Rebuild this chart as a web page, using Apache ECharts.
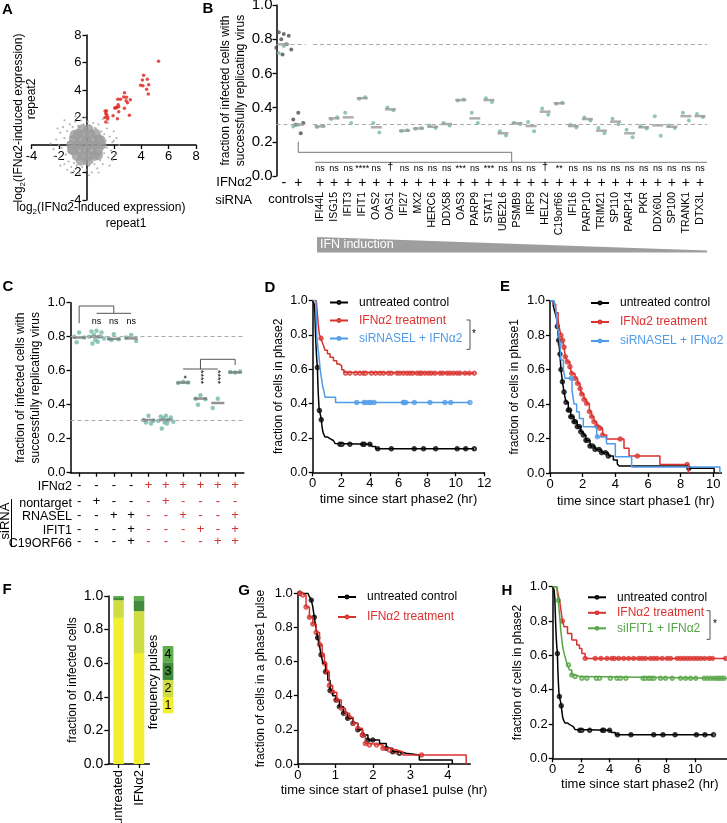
<!DOCTYPE html>
<html>
<head>
<meta charset="utf-8">
<script src="https://cdn.jsdelivr.net/npm/echarts@6/dist/echarts.min.js"></script>
<style>
html,body{margin:0;padding:0;background:#fff}
#fig{width:727px;height:823px}
</style>
</head>
<body>
<div id="fig"></div>
<script>
var FONT = 'Liberation Sans, Arial, Helvetica, sans-serif';
var RED = '#d9322f', BLUE = '#4f9be8', GREEN = '#56a545', TEAL = '#74b9a8', GRAYPT = '#4d4d4d';

/* ---------- A : scatter repeat1 vs repeat2 ---------- */
var aRed = [[5.27,6.1],[4.18,5.07],[4.09,4.73],[4.45,4.78],[4.55,4.39],[3.96,4.34],[4.13,4.31],[4.4,4.05],
  [4.52,3.71],[2.78,3.8],[2.73,3.49],[2.93,3.47],[2.29,3.32],[2.49,3.32],[2.9,3.22],[3.21,3.3],[3.0,3.08],
  [2.32,2.93],[2.36,2.79],[2.07,2.69],[2.15,2.69],[2.22,2.74],[2.78,2.67],[2.36,2.42],[1.37,2.47],[1.47,2.47],
  [1.42,2.3],[1.49,2.18],[1.95,2.13],[3.14,2.16],[1.36,2.0],[1.56,2.03],[2.27,1.91],[1.56,1.89],[1.42,1.67]];
var aCloudCore = [[-1.1,0],[-0.65,0],[-0.2,0],[0.25,0],[0.7,0],[1.1,0],
  [-0.9,0.4],[-0.45,0.4],[0,0.4],[0.45,0.4],[0.9,0.4],
  [-0.95,-0.4],[-0.5,-0.4],[-0.05,-0.4],[0.4,-0.4],[0.85,-0.4],
  [-0.6,0.8],[-0.15,0.8],[0.3,0.8],[0.7,0.8],
  [-0.7,-0.8],[-0.25,-0.8],[0.2,-0.8],[0.6,-0.8],
  [-0.3,1.15],[0.15,1.15],[-0.4,-1.15],[0.1,-1.15],
  [-0.85,0.75],[0.85,-0.75],[-1.05,-0.35],[1.05,0.35]];
var aCloud = [[-2.4,-0.3],[-2.2,0.4],[-2.0,-1.0],[-1.9,0.9],[-1.8,-0.2],[-1.7,1.3],[-1.6,-1.4],[-1.6,0.5],
  [-1.5,-0.7],[-1.4,1.0],[-1.4,-1.8],[-1.3,0.2],[-1.3,-1.2],[-1.2,1.5],[-1.1,-1.6],[-1.0,1.3],[-0.9,-1.9],
  [-0.8,1.7],[-0.7,-1.5],[-0.6,1.4],[-0.5,-2.1],[-0.4,1.8],[-0.3,-1.6],[-0.2,1.5],[0.0,-1.8],[0.1,1.7],
  [0.2,-1.5],[0.3,1.4],[0.4,-2.0],[0.5,1.6],[0.6,-1.4],[0.7,1.2],[0.8,-1.7],[0.9,1.5],[1.0,-1.1],[1.1,1.0],
  [1.2,-1.4],[1.3,0.8],[1.3,-0.6],[1.4,0.3],[1.5,-0.2],[1.5,1.2],[1.6,-0.9],[1.7,0.6],[1.8,-0.4],[1.9,0.2],
  [2.0,1.0],[2.1,-0.7],[2.2,0.5],[2.4,0.0],[-2.6,0.1],[-2.3,-0.8],[-2.1,1.2],[-1.9,-1.5],[1.6,1.6],[1.9,-1.1],
  [-0.1,2.0],[0.2,-2.2],[-1.1,-2.0],[1.2,1.9],[-2.0,0.0],[2.0,0.3],[1.7,-1.5],[-1.6,1.8],[0.9,-2.0],[-0.8,2.1],
  [-1.2,0.6],[1.2,-0.2],[-1.25,-0.5],[1.15,0.55],[-0.9,-1.3],[0.6,1.25],[-0.5,1.3],[0.45,-1.25]];

/* ---------- B : siRNA screen ---------- */
var bCtrl = ['-', '+'];
var bCtrlDark = [[0.83,0.84,0.82,0.80,0.77,0.75,0.74,0.71],[0.37,0.33,0.31,0.30,0.25]];
var bCtrlTeal = [[0.76,0.72],[0.30,0.29]];
var bCtrlMedian = [0.77, 0.30];
var bGenes = ['IFI44L','ISG15','IFIT3','IFIT1','OAS2','OAS1','IFI27','MX2','HERC6','DDX58','OAS3','PARP9','STAT1',
  'UBE2L6','PSMB9','IRF9','HELZ2','C19orf66','IFI16','PARP10','TRIM21','SP110','PARP14','PKR','DDX60L','SP100','TRANK1','DTX3L'];
var bMedian = [0.29,0.337,0.343,0.455,0.285,0.39,0.265,0.278,0.288,0.304,0.444,0.337,0.444,0.25,0.308,0.292,0.376,0.425,
  0.292,0.333,0.265,0.318,0.25,0.285,0.296,0.288,0.35,0.35];
var bRep1 = [0.286,0.333,0.37,0.452,0.31,0.40,0.263,0.276,0.296,0.31,0.442,0.37,0.455,0.262,0.311,0.316,0.395,0.423,
  0.30,0.342,0.28,0.335,0.27,0.292,0.35,0.295,0.37,0.362];
var bRep2 = [0.294,0.343,0.31,0.46,0.255,0.385,0.268,0.281,0.28,0.296,0.447,0.31,0.433,0.237,0.304,0.262,0.358,0.428,
  0.284,0.325,0.25,0.302,0.226,0.278,0.235,0.28,0.325,0.345];
var bSig = ['ns','ns','ns','****','ns','\u2020','ns','ns','ns','ns','***','ns','***','ns','ns','ns','\u2020','**',
  'ns','ns','ns','ns','ns','ns','ns','ns','ns','ns'];
var bRefLines = [0.77, 0.303];

/* ---------- C : knockdown combinations ---------- */
var cMedian = [0.795, 0.80, 0.787, 0.79, 0.31, 0.31, 0.53, 0.436, 0.41, 0.59];
var cPoints = [
  [0.824,0.80,0.796,0.767],
  [0.835,0.83,0.825,0.81,0.80,0.80,0.79,0.78,0.77,0.76],
  [0.815,0.79,0.785,0.78],
  [0.81,0.795,0.775],
  [0.335,0.31,0.305,0.295,0.29],
  [0.335,0.33,0.325,0.32,0.31,0.305,0.30,0.295,0.29,0.26],
  [0.535,0.528,0.53],
  [0.455,0.435,0.432,0.40],
  [0.435,0.38],
  [0.59,0.593,0.595]];
var cRowNames = ['IFN\u03b12', 'nontarget', 'RNASEL', 'IFIT1', 'C19ORF66'];
var cRows = [
  ['-','-','-','-','+','+','+','+','+','+'],
  ['-','+','-','-','-','+','-','-','-','-'],
  ['-','-','+','+','-','-','+','-','-','+'],
  ['-','-','-','+','-','-','-','+','-','+'],
  ['-','-','-','+','-','-','-','-','+','+']];
var cRefLines = [0.8, 0.313];
var cSigTop = ['', 'ns', 'ns', 'ns'];
var cSigLow = ['', '', '', '', '', '', '*', '****', '****', ''];

/* ---------- D / H : phase2 survival ---------- */
var kmUntreated2 = [[0,1],[0.1,0.98],[0.15,0.93],[0.18,0.85],[0.21,0.78],[0.24,0.72],[0.28,0.66],[0.33,0.61],
  [0.36,0.52],[0.4,0.44],[0.44,0.38],[0.47,0.36],[0.55,0.33],[0.6,0.306],[0.65,0.27],[0.7,0.24],[0.75,0.225],
  [0.86,0.206],[1.03,0.196],[1.2,0.19],[1.33,0.185],[1.45,0.175],[1.56,0.168],[1.68,0.163],[4.05,0.163],
  [4.15,0.15],[4.4,0.137],[11.3,0.137]];
var kmUntreated2Cens = [0.33,0.47,0.6,1.9,2.05,2.6,3.5,3.6,4.0,4.55,5.5,7.1,7.75,8.6,10.1,10.7,11.3];
var kmIfn2 = [[0,1],[0.25,1],[0.3,0.95],[0.35,0.9],[0.4,0.85],[0.47,0.8],[0.58,0.78],[0.65,0.76],[0.75,0.74],
  [0.86,0.71],[1.03,0.69],[1.21,0.67],[1.45,0.65],[1.68,0.63],[1.86,0.62],[2.03,0.597],[2.19,0.583],[2.28,0.577],[11.3,0.577]];
var kmIfn2Cens = [0.58,2.3,2.6,3.0,3.3,3.55,3.7,4.1,4.4,4.7,4.95,5.3,5.5,5.9,6.1,6.35,6.6,6.8,7.0,7.3,7.5,7.6,7.85,
  8.1,8.3,8.55,8.9,9.1,9.4,9.6,9.85,10.1,10.3,10.65,10.95,11.3];
var kmSiRnasel2 = [[0,1],[0.22,1],[0.25,0.9],[0.28,0.8],[0.33,0.75],[0.4,0.7],[0.44,0.67],[0.5,0.62],[0.55,0.58],
  [0.63,0.54],[0.7,0.5],[0.79,0.47],[0.86,0.437],[1.6,0.406],[11.0,0.406]];
var kmSiRnasel2Cens = [3.08,3.59,3.73,3.96,4.06,4.29,6.34,6.41,6.5,7.11,8.2,9.25,9.65,11.0];
var kmIfn2H = [[0,1],[0.28,1],[0.4,0.95],[0.52,0.9],[0.6,0.85],[0.68,0.8],[0.8,0.767],[1.04,0.728],[1.34,0.69],
  [1.69,0.66],[1.88,0.64],[2.05,0.61],[2.28,0.582],[12.2,0.582]];
var kmIfn2HCens = [0.68,2.28,2.99,3.39,3.81,4.16,4.33,4.64,4.99,5.34,5.69,6.05,6.28,6.52,6.87,7.11,7.34,7.69,8.05,
  8.28,8.75,8.99,9.22,9.46,9.69,9.93,10.16,10.4,10.68,10.99,11.22,12.16];
var kmSiIfit1 = [[0,1],[0.28,1],[0.33,0.96],[0.4,0.92],[0.47,0.845],[0.52,0.8],[0.56,0.75],[0.63,0.7],[0.7,0.65],
  [0.78,0.62],[0.87,0.59],[0.95,0.565],[1.04,0.544],[1.18,0.515],[1.34,0.485],[1.58,0.476],[1.93,0.466],[12.2,0.466]];
var kmSiIfit1Cens = [0.4,1.11,1.34,1.58,2.05,2.4,3.06,3.29,4.05,4.52,4.75,5.14,6.35,6.52,6.75,6.92,7.11,7.58,7.93,
  8.4,8.99,9.34,9.69,10.05,10.64,10.87,11.11,11.34,11.53,11.69,11.86,12.05];

/* ---------- E : phase1 survival ---------- */
var kmUntreated1 = [[0,1],[0.1,1],[0.2,0.97],[0.31,0.93],[0.4,0.9],[0.45,0.85],[0.53,0.77],[0.61,0.69],[0.67,0.6],
  [0.76,0.53],[0.86,0.47],[0.98,0.41],[1.12,0.365],[1.27,0.327],[1.47,0.298],[1.67,0.269],[1.88,0.24],[2.04,0.22],
  [2.2,0.19],[2.45,0.157],[2.76,0.137],[3.16,0.118],[3.57,0.099],[3.88,0.075],[4.12,0.052],[4.24,0.04],[8.5,0.027],
  [10.05,0],[10.05,0]];
var kmUntreated1Cens = [0.45,0.53,0.61,0.67,0.76,0.86,0.98,1.12,1.2,1.27,1.35,1.47,1.55,1.67,1.8,1.88,2.04,2.2,2.3,
  2.45,2.6,2.76,3.0,3.16,3.4,3.57,8.5];
var kmIfn1 = [[0,1],[0.1,1],[0.2,0.98],[0.35,0.93],[0.5,0.88],[0.6,0.83],[0.67,0.8],[0.78,0.77],[0.86,0.73],
  [0.94,0.675],[1.06,0.646],[1.22,0.617],[1.33,0.578],[1.53,0.55],[1.69,0.52],[1.84,0.49],[1.94,0.458],[2.08,0.427],
  [2.24,0.404],[2.41,0.356],[2.55,0.327],[2.69,0.298],[2.86,0.273],[3.06,0.26],[3.22,0.22],[3.47,0.197],[4.53,0.143],
  [4.84,0.099],[6.73,0.05],[8.47,0],[8.47,0]];
var kmIfn1Cens = [0.67,0.78,0.86,0.94,1.06,1.22,1.33,1.53,1.69,1.84,1.94,2.08,2.24,2.41,2.55,2.69,2.86,3.06,3.22,
  4.3,5.35,8.4];
var kmSiRnasel1 = [[0,1],[0.25,1],[0.35,0.95],[0.45,0.85],[0.53,0.8],[0.61,0.75],[0.67,0.656],[0.82,0.6],[0.92,0.55],
  [1.35,0.48],[1.47,0.4],[1.63,0.356],[1.8,0.317],[2.04,0.269],[2.86,0.21],[3.43,0.2],[3.47,0.17],[4.0,0.095],
  [5.0,0.035],[10.4,0],[10.4,0]];
var kmSiRnasel1Cens = [0.61,1.3,2.9];

/* ---------- F : pulse frequency ---------- */
var fCats = ['untreated', 'IFN\u03b12'];
var fPulse1 = [0.87, 0.66];
var fPulse2 = [0.105, 0.25];
var fPulse3 = [0.013, 0.065];
var fPulse4 = [0.012, 0.025];
var fColors = ['#f1ef2e', '#cfdc42', '#3f8b3c', '#60ad4d'];

/* ---------- G : phase1 pulse duration ---------- */
var kmUntreatedP = [[0,1],[0.27,1],[0.31,0.98],[0.36,0.96],[0.4,0.92],[0.44,0.86],[0.49,0.79],[0.53,0.74],[0.58,0.69],
  [0.62,0.64],[0.67,0.59],[0.74,0.54],[0.8,0.49],[0.86,0.43],[0.93,0.4],[1.02,0.375],[1.11,0.336],[1.22,0.297],
  [1.33,0.268],[1.47,0.238],[1.6,0.2],[1.73,0.17],[1.87,0.14],[2.18,0.12],[2.36,0.092],[2.53,0.072],[2.71,0.0625],
  [2.89,0.053],[3.24,0.023],[4.12,0],[4.12,0]];
var kmUntreatedPCens = [0.05,0.36,0.44,0.53,0.62,0.74,0.86,1.02,1.11,1.22,1.33,1.47,1.6,1.73,1.87,2.0,2.36,2.53,2.71];
var kmIfnP = [[0,1],[0.1,0.995],[0.13,0.99],[0.22,0.92],[0.31,0.86],[0.4,0.82],[0.49,0.77],[0.58,0.7],[0.65,0.64],
  [0.71,0.59],[0.77,0.54],[0.84,0.46],[0.93,0.42],[1.04,0.375],[1.16,0.326],[1.27,0.297],[1.38,0.273],[1.48,0.238],
  [1.6,0.209],[1.72,0.17],[1.8,0.12],[1.91,0.111],[2.27,0.092],[2.44,0.082],[2.62,0.072],[2.8,0.053],[4.49,0],[4.49,0]];
var kmIfnPCens = [0.05,0.13,0.22,0.31,0.4,0.49,0.58,0.65,0.71,0.77,0.84,0.93,1.04,1.16,1.27,1.38,1.48,1.6,1.72,1.8,
  1.91,2.1,2.27,2.44,2.62,3.3];

/* ---------- helpers ---------- */
var jitter = [0, -5, 5, -2.5, 2.5, -7.5, 7.5, -1.2, 1.2, -4, 4];

function ax(o) {
  var base = {
    axisLine: {show: true, onZero: false, lineStyle: {color: '#000', width: 1.5}},
    axisTick: {show: true, length: 4, lineStyle: {color: '#000', width: 1.3}},
    axisLabel: {color: '#000', fontSize: 13, fontFamily: FONT, margin: 5},
    splitLine: {show: false},
    nameTextStyle: {color: '#000', fontSize: 12, fontFamily: FONT, lineHeight: 15}
  };
  return echarts.util.merge(base, o, true);
}
function fracAxis(grid, o) {
  return ax(echarts.util.merge({type: 'value', gridIndex: grid, position: 'left', min: 0, max: 1, interval: 0.2,
    nameLocation: 'middle', nameRotate: 90,
    axisLabel: {formatter: function (v) { return v.toFixed(1); }}}, o || {}, true));
}
function stepAt(curve, t) {
  var v = curve[0][1];
  for (var i = 0; i < curve.length; i++) if (curve[i][0] <= t) v = curve[i][1];
  return v;
}
function kmLine(name, curve, color, xi, yi) {
  return {type: 'line', name: name, xAxisIndex: xi, yAxisIndex: yi, data: curve, step: 'end',
    symbol: 'emptyCircle', symbolSize: 4, showSymbol: false, silent: true,
    lineStyle: {color: color, width: 1.5}, itemStyle: {color: color, borderWidth: 1}};
}
function kmCens(curve, times, color, xi, yi) {
  return {type: 'scatter', name: '_c', xAxisIndex: xi, yAxisIndex: yi, silent: true,
    data: times.map(function (t) { return [t, stepAt(curve, t)]; }),
    symbol: 'emptyCircle', symbolSize: 3.5, itemStyle: {color: color, borderColor: color, borderWidth: 0.9}};
}
function groupPts(groups, xi, yi, color, size) {
  var data = [];
  groups.forEach(function (g, ci) {
    g.forEach(function (v, j) { data.push({value: [ci, v], symbolOffset: [jitter[j % jitter.length], 0]}); });
  });
  return {type: 'scatter', xAxisIndex: xi, yAxisIndex: yi, data: data, symbolSize: size, silent: true,
    itemStyle: {color: color}};
}
function refLines(vals) {
  return {silent: true, symbol: 'none', label: {show: false},
    lineStyle: {color: '#aaa', type: [4, 3], width: 1},
    data: vals.map(function (v) { return {yAxis: v}; })};
}
function legendAt(left, top, gap, items) {
  return {orient: 'vertical', left: left, top: top, itemGap: gap, itemWidth: 18, itemHeight: 3.5,
    selectedMode: false, padding: 0,
    textStyle: {fontSize: 12, fontFamily: FONT, padding: [0, 0, 0, 6]},
    data: items.map(function (it) { return {name: it[0], textStyle: {color: it[1]}}; })};
}

/* ---------- grids / axes ---------- */
var grids = [
  {left: 31.5, top: 35, width: 164.5, height: 165},      // 0 A
  {left: 276.5, top: 5, width: 29, height: 171},         // 1 B controls
  {left: 313, top: 5, width: 394, height: 171},          // 2 B genes
  {left: 70.5, top: 302.7, width: 173.3, height: 170},   // 3 C
  {left: 312.7, top: 300.5, width: 171.6, height: 171.8},// 4 D
  {left: 550, top: 300.7, width: 171.5, height: 172.3},  // 5 E
  {left: 108.3, top: 596, width: 41, height: 168},       // 6 F
  {left: 297.8, top: 593.3, width: 172.5, height: 170.7},// 7 G
  {left: 552.7, top: 586.7, width: 174.3, height: 171.6} // 8 H
].map(function (g) { g.outerBoundsMode = 'none'; g.containLabel = false; return g; });

var noLine = {axisLine: {show: false}, axisTick: {show: false}};
var cIdx = ['0','1','2','3','4','5','6','7','8','9'];
function cRowFormatter(r) {
  return function (v, i) { return (i >= 4 ? '{r|' : '{k|') + cRows[r][i] + '}'; };
}
var cRich = {k: {color: '#000', fontSize: 13, fontFamily: FONT}, r: {color: RED, fontSize: 13, fontFamily: FONT}};
var cRowOffsets = [0, 16.6, 30, 44, 56.6];

var xAxes = [
  // A: x axis drawn through y = 0 (4 units of 13.75 px above the grid bottom)
  ax({type: 'value', gridIndex: 0, position: 'bottom', offset: -55, min: -4, max: 8, interval: 2,
    axisLabel: {formatter: function (v) { return v === 0 ? '' : v; }}}),
  ax(echarts.util.merge({type: 'category', gridIndex: 1, position: 'bottom', data: ['n', 'p'],
    axisLabel: {interval: 0, margin: 0, fontSize: 14, formatter: function (v, i) { return bCtrl[i]; }}}, noLine, true)),
  ax(echarts.util.merge({type: 'category', gridIndex: 1, position: 'bottom', data: ['controls'], offset: 14,
    axisLabel: {interval: 0, margin: 3, fontSize: 13}}, noLine, true)),
  ax(echarts.util.merge({type: 'category', gridIndex: 2, position: 'bottom', data: bGenes,
    axisLabel: {interval: 0, margin: 0, fontSize: 14, formatter: function () { return '+'; }}}, noLine, true)),
  ax(echarts.util.merge({type: 'category', gridIndex: 2, position: 'bottom', data: bGenes, offset: 12,
    axisLabel: {interval: 0, margin: 4, fontSize: 10.5, rotate: 90}}, noLine, true))
];
cRows.forEach(function (row, r) {
  var o = {type: 'category', gridIndex: 3, position: 'bottom', data: cIdx, offset: cRowOffsets[r],
    axisLabel: {interval: 0, margin: 6, formatter: cRowFormatter(r), rich: cRich},
    axisTick: {alignWithLabel: true, length: 4}};
  if (r > 0) o = echarts.util.merge(o, noLine, true);
  xAxes.push(ax(o));
});
xAxes.push(
  ax({type: 'value', gridIndex: 4, position: 'bottom', min: 0, max: 12, interval: 2, name: 'time since start phase2 (hr)',
    nameLocation: 'middle', nameGap: 20, nameTextStyle: {fontSize: 13}}),
  ax({type: 'value', gridIndex: 5, position: 'bottom', min: 0, max: 10.5, interval: 2, name: 'time since start phase1 (hr)',
    nameLocation: 'middle', nameGap: 21, nameTextStyle: {fontSize: 13},
    axisTick: {customValues: [0, 2, 4, 6, 8, 10]}, axisLabel: {customValues: [0, 2, 4, 6, 8, 10]}}),
  ax({type: 'category', gridIndex: 6, position: 'bottom', data: fCats, axisTick: {alignWithLabel: true},
    axisLabel: {interval: 0, rotate: 90, fontSize: 13, margin: 6}}),
  ax({type: 'value', gridIndex: 7, position: 'bottom', min: 0, max: 4.6, interval: 1, name: 'time since start of phase1 pulse (hr)',
    nameLocation: 'middle', nameGap: 16, nameTextStyle: {fontSize: 13},
    axisTick: {customValues: [0, 1, 2, 3, 4]}, axisLabel: {customValues: [0, 1, 2, 3, 4]}}),
  ax({type: 'value', gridIndex: 8, position: 'bottom', min: 0, max: 12.25, interval: 2, name: 'time since start phase2 (hr)',
    nameLocation: 'middle', nameGap: 19, nameTextStyle: {fontSize: 13},
    axisTick: {customValues: [0, 2, 4, 6, 8, 10]}, axisLabel: {customValues: [0, 2, 4, 6, 8, 10]}})
);
// x axis indices: 0 A, 1-2 B ctrl, 3-4 B genes, 5-9 C rows, 10 D, 11 E, 12 F, 13 G, 14 H

var yAxes = [
  // A: y axis drawn through x = 0 (4 units of 13.75 px right of the grid left edge)
  ax({type: 'value', gridIndex: 0, position: 'left', offset: -55, min: -4, max: 8, interval: 2,
    axisLabel: {formatter: function (v) { return v === 0 ? '' : v; }}}),
  fracAxis(1, {name: 'fraction of infected cells with\nsuccessfully replicating virus', nameGap: 26,
    axisLabel: {fontSize: 15, margin: 4}}),
  fracAxis(2, {show: false}),
  fracAxis(3, {name: 'fraction of infected cells with\nsuccessfully replicating virus', nameGap: 26.5}),
  fracAxis(4, {name: 'fraction of cells in phase2', nameGap: 27, axisLabel: {fontSize: 12.5}}),
  fracAxis(5, {name: 'fraction of cells in phase1', nameGap: 28}),
  fracAxis(6, {name: 'fraction of infected cells', nameGap: 25, axisLabel: {fontSize: 14}}),
  fracAxis(7, {name: 'fraction of cells in a phase1 pulse', nameGap: 30}),
  fracAxis(8, {name: 'fraction of cells in phase2', nameGap: 28})
];

/* ---------- series ---------- */
var series = [];
// A
series.push({type: 'scatter', xAxisIndex: 0, yAxisIndex: 0, data: aCloud, symbolSize: 2.2, silent: true,
  itemStyle: {color: '#a5a5a5'}});
series.push({type: 'scatter', xAxisIndex: 0, yAxisIndex: 0, data: aCloudCore, symbolSize: 10, silent: true,
  itemStyle: {color: '#9c9c9c'}});
series.push({type: 'scatter', xAxisIndex: 0, yAxisIndex: 0, data: aRed, symbolSize: 3.5, silent: true,
  itemStyle: {color: '#e0201c'}});
// B controls
series.push(groupPts(bCtrlDark, 1, 1, GRAYPT, 4));
series.push(groupPts(bCtrlTeal, 1, 1, TEAL, 4));
series.push({type: 'scatter', xAxisIndex: 1, yAxisIndex: 1, silent: true,
  data: bCtrlMedian.map(function (v, i) { return [i, v]; }),
  symbol: 'rect', symbolSize: [11, 2.5], itemStyle: {color: '#9a9a9a'}, markLine: refLines(bRefLines)});
// B genes
series.push({type: 'scatter', xAxisIndex: 3, yAxisIndex: 2, silent: true, symbolSize: 4, symbolOffset: [-3, 0],
  data: bRep1.map(function (v, i) { return [i, v]; }), itemStyle: {color: TEAL}});
series.push({type: 'scatter', xAxisIndex: 3, yAxisIndex: 2, silent: true, symbolSize: 4, symbolOffset: [3, 0],
  data: bRep2.map(function (v, i) { return [i, v]; }), itemStyle: {color: TEAL}});
series.push({type: 'scatter', xAxisIndex: 3, yAxisIndex: 2, silent: true,
  data: bMedian.map(function (v, i) { return [i, v]; }),
  symbol: 'rect', symbolSize: [11, 2.5], itemStyle: {color: '#9a9a9a'}, markLine: refLines(bRefLines)});
// C
series.push(groupPts(cPoints, 5, 3, '#72b8a6', 4.5));
series.push({type: 'scatter', xAxisIndex: 5, yAxisIndex: 3, silent: true,
  data: cMedian.map(function (v, i) { return [i, v]; }),
  symbol: 'rect', symbolSize: [13, 2.5], itemStyle: {color: '#777'}, markLine: refLines(cRefLines)});
// D
series.push(kmLine('untreated control', kmUntreated2, '#000', 10, 4));
series.push(kmLine('IFN\u03b12 treatment', kmIfn2, RED, 10, 4));
series.push(kmLine('siRNASEL + IFN\u03b12', kmSiRnasel2, BLUE, 10, 4));
series.push(kmCens(kmUntreated2, kmUntreated2Cens, '#000', 10, 4));
series.push(kmCens(kmIfn2, kmIfn2Cens, RED, 10, 4));
series.push(kmCens(kmSiRnasel2, kmSiRnasel2Cens, BLUE, 10, 4));
// E
series.push(kmLine('untreated control', kmUntreated1, '#000', 11, 5));
series.push(kmLine('IFN\u03b12 treatment', kmIfn1, RED, 11, 5));
series.push(kmLine('siRNASEL + IFN\u03b12', kmSiRnasel1, BLUE, 11, 5));
series.push(kmCens(kmUntreated1, kmUntreated1Cens, '#000', 11, 5));
series.push(kmCens(kmIfn1, kmIfn1Cens, RED, 11, 5));
series.push(kmCens(kmSiRnasel1, kmSiRnasel1Cens, BLUE, 11, 5));
// F
[fPulse1, fPulse2, fPulse3, fPulse4].forEach(function (d, k) {
  series.push({type: 'bar', stack: 'pulses', xAxisIndex: 12, yAxisIndex: 6, data: d, barWidth: 10.5,
    silent: true, itemStyle: {color: fColors[k]}});
});
// G
series.push(kmLine('untreated control', kmUntreatedP, '#000', 13, 7));
series.push(kmLine('IFN\u03b12 treatment', kmIfnP, RED, 13, 7));
series.push(kmCens(kmUntreatedP, kmUntreatedPCens, '#000', 13, 7));
series.push(kmCens(kmIfnP, kmIfnPCens, RED, 13, 7));
// H
series.push(kmLine('untreated control', kmUntreated2, '#000', 14, 8));
series.push(kmLine('IFN\u03b12 treatment', kmIfn2H, RED, 14, 8));
series.push(kmLine('siIFIT1 + IFN\u03b12', kmSiIfit1, GREEN, 14, 8));
series.push(kmCens(kmUntreated2, kmUntreated2Cens, '#000', 14, 8));
series.push(kmCens(kmIfn2H, kmIfn2HCens, RED, 14, 8));
series.push(kmCens(kmSiIfit1, kmSiIfit1Cens, GREEN, 14, 8));

var legends = [
  legendAt(329, 296.5, 6, [['untreated control', '#000'], ['IFN\u03b12 treatment', RED], ['siRNASEL + IFN\u03b12', BLUE]]),
  legendAt(590, 297, 7, [['untreated control', '#000'], ['IFN\u03b12 treatment', RED], ['siRNASEL + IFN\u03b12', BLUE]]),
  legendAt(337, 591, 8, [['untreated control', '#000'], ['IFN\u03b12 treatment', RED]]),
  legendAt(587, 591.3, 3.5, [['untreated control', '#000'], ['IFN\u03b12 treatment', RED], ['siIFIT1 + IFN\u03b12', GREEN]])
];

var chart = echarts.init(document.getElementById('fig'));
chart.setOption({
  animation: false,
  backgroundColor: '#fff',
  textStyle: {fontFamily: FONT},
  grid: grids,
  xAxis: xAxes,
  yAxis: yAxes,
  legend: legends,
  series: series
});

/* ---------- annotations ---------- */
function txt(x, y, s, o) {
  o = o || {};
  var st = {text: s, fill: o.color || '#000', fontSize: o.size || 12, fontFamily: FONT,
    fontWeight: o.bold ? 'bold' : 'normal', align: o.align || 'center', verticalAlign: o.va || 'middle',
    textAlign: o.align || 'center', textVerticalAlign: o.va || 'middle'};
  if (o.rich) st.rich = o.rich;
  return {type: 'text', x: x, y: y, rotation: o.rot || 0, silent: true, z: 100, style: st};
}
function poly(pts, color, w) {
  return {type: 'polyline', shape: {points: pts}, silent: true, z: 100,
    style: {stroke: color || '#555', lineWidth: w || 1, fill: null}};
}
var g = [];
[['A', 7.5, 10], ['B', 208, 9], ['C', 8, 287], ['D', 270, 288], ['E', 505, 287], ['F', 7, 590], ['G', 244, 591], ['H', 507, 591]]
  .forEach(function (p) { g.push(txt(p[1], p[2], p[0], {bold: true, size: 15})); });

// A axis titles
var logRich = {t: {fontSize: 12, fontFamily: FONT, fill: '#000'}, s: {fontSize: 8, fontFamily: FONT, padding: [7, 0, 0, 0]}};
g.push(txt(19, 118, '{t|log}{s|2}{t|(IFN\u03b12-induced expression)}', {rot: Math.PI / 2, rich: logRich}));
g.push(txt(32, 99, 'repeat2', {rot: Math.PI / 2}));
g.push(txt(101, 208, '{t|log}{s|2}{t|(IFN\u03b12-induced expression)}', {rich: logRich}));
g.push(txt(126, 224, 'repeat1'));

// B row headers, brackets, significance, IFN induction wedge
g.push(txt(252, 182, 'IFN\u03b12', {align: 'right', size: 13}));
g.push(txt(252, 200, 'siRNA', {align: 'right', size: 13}));
var bPlus = chart.convertToPixel({xAxisIndex: 1, yAxisIndex: 1}, [1, 0.2]);
g.push(poly([[bPlus[0], 141.7], [bPlus[0], 152.3], [511.7, 152.3], [511.7, 162.3]], '#777', 1));
g.push(poly([[315, 162.3], [707, 162.3]], '#777', 1));
bSig.forEach(function (s, i) {
  var p = chart.convertToPixel({xAxisIndex: 3, yAxisIndex: 2}, [i, 0]);
  g.push(txt(p[0], s === '\u2020' ? 167 : 168.5, s, {size: s === '\u2020' ? 11 : 9}));
});
g.push({type: 'polygon', silent: true, z: 90, shape: {points: [[317, 237], [317, 252.5], [707, 252.5], [707, 250.5]]},
  style: {fill: '#9e9e9e'}});
g.push(txt(320, 244.5, 'IFN induction', {align: 'left', size: 12.5, color: '#fff'}));

// C row headers, siRNA bracket, brackets, significance
cRowNames.forEach(function (n, r) {
  g.push(txt(72, [486.7, 503.3, 516.7, 530.7, 543.3][r], n, {align: 'right', size: 12.5}));
});
g.push(txt(5.5, 521, 'siRNA', {rot: Math.PI / 2, size: 13}));
g.push(poly([[11.5, 499], [11.5, 547]], '#000', 1));
function cpx(i, v) { return chart.convertToPixel({xAxisIndex: 5, yAxisIndex: 3}, [i, v]); }
var c0 = cpx(0, 0)[0], c1 = cpx(1, 0)[0], c2 = cpx(2, 0)[0], c3 = cpx(3, 0)[0];
var c6 = cpx(6, 0)[0], c7 = cpx(7, 0)[0], c8 = cpx(8, 0)[0], c9 = cpx(9, 0)[0];
g.push(poly([[c0, 323.3], [c0, 306], [c2, 306], [c2, 313.3]], '#555', 1));
g.push(poly([[c1, 313.3], [c3, 313.3]], '#555', 1));
cSigTop.forEach(function (s, i) { if (s) g.push(txt(cpx(i, 0)[0], 321.7, s, {size: 9})); });
g.push(poly([[c6, 369], [c8, 369]], '#555', 1));
g.push(poly([[c7, 369], [c7, 359.3], [c9, 359.3], [c9, 365]], '#555', 1));
cSigLow.forEach(function (s, i) {
  if (s) g.push(txt(cpx(i, 0)[0], 377, s, {size: 9, rot: -Math.PI / 2}));
});

// D and H significance brackets
g.push(poly([[466.5, 320], [470, 320], [470, 349.3], [466.5, 349.3]], '#555', 1));
g.push(txt(474, 334, '*', {size: 10}));
g.push(poly([[706.5, 610.7], [710, 610.7], [710, 639.3], [706.5, 639.3]], '#555', 1));
g.push(txt(715, 624, '*', {size: 10}));

// F legend boxes
var fBoxY = [[697, 713.3], [680, 697], [662.3, 680], [646, 662.3]];
fBoxY.forEach(function (yy, k) {
  g.push({type: 'rect', silent: true, z: 95, shape: {x: 162.7, y: yy[0], width: 10.7, height: yy[1] - yy[0]},
    style: {fill: fColors[k]}});
  g.push(txt(168, (yy[0] + yy[1]) / 2, String(k + 1), {size: 12.5}));
});
g.push(txt(153.3, 682, 'frequency pulses', {rot: Math.PI / 2, size: 12.5}));

chart.setOption({graphic: {elements: g}});
</script>
</body>
</html>
